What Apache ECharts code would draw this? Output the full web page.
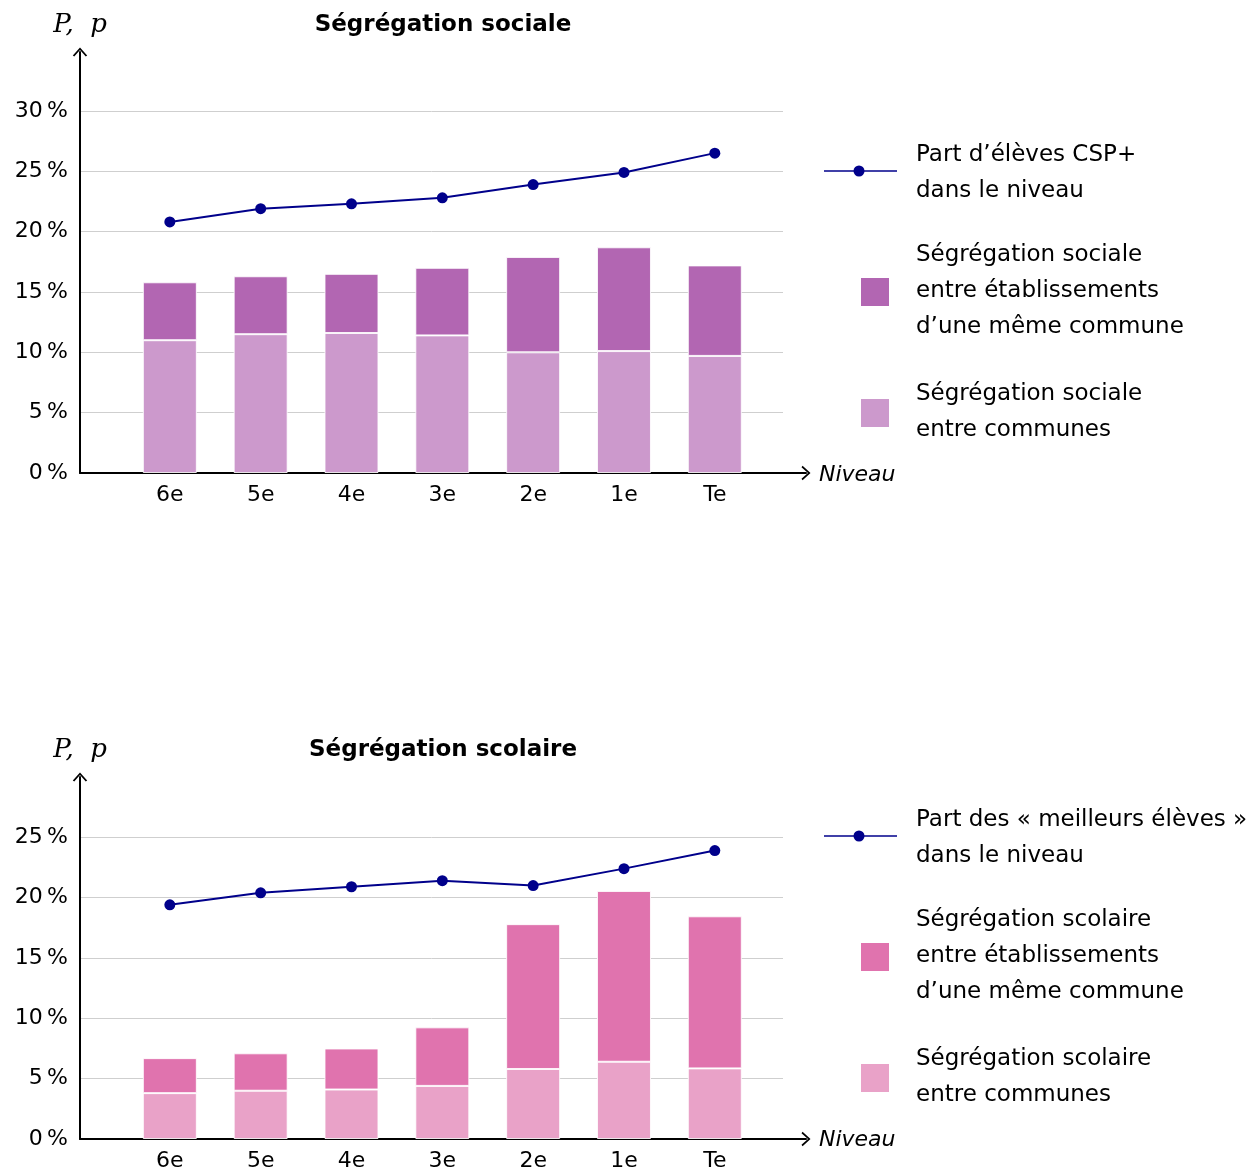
<!DOCTYPE html>
<html>
<head>
<meta charset="utf-8">
<script src="https://cdn.jsdelivr.net/npm/echarts@6/dist/echarts.min.js"></script>
<style>
html,body{margin:0;padding:0;background:#fff;}
#c{width:1253px;height:1172px;}
</style>
</head>
<body>
<div id="c"></div>
<script>
// ---- data ----
const categories = ['6e','5e','4e','3e','2e','1e','Te'];
const yTicksSociale = [0,5,10,15,20,25,30];
const yTicksScolaire = [0,5,10,15,20,25];

const socialeCommunes = [11.0, 11.5, 11.6, 11.4, 10.0, 10.1, 9.7];
const socialeEtab     = [4.8, 4.8, 4.9, 5.6, 7.9, 8.6, 7.5];
const partCSP         = [20.8, 21.9, 22.3, 22.8, 23.9, 24.9, 26.5];

const scolaireCommunes = [3.8, 4.0, 4.1, 4.4, 5.8, 6.4, 5.85];
const scolaireEtab     = [2.9, 3.1, 3.4, 4.85, 12.0, 14.15, 12.6];
const partMeilleurs    = [19.4, 20.4, 20.9, 21.4, 21.0, 22.4, 23.9];

const legendSociale = [
  ['Part d\u2019élèves CSP+', 'dans le niveau'],
  ['Ségrégation sociale', 'entre établissements', 'd\u2019une même commune'],
  ['Ségrégation sociale', 'entre communes']
];
const legendScolaire = [
  ['Part des « meilleurs élèves »', 'dans le niveau'],
  ['Ségrégation scolaire', 'entre établissements', 'd\u2019une même commune'],
  ['Ségrégation scolaire', 'entre communes']
];

// ---- styles ----
const C_LINE = '#00008b';
const C_SOC_TOP = '#b266b2', C_SOC_BOT = '#cc99cc';
const C_SCO_TOP = '#e073ae', C_SCO_BOT = '#e9a2c8';
const FONT = 'DejaVu Sans';
const LBL = 22;
const LEG = 23;

const chart = echarts.init(document.getElementById('c'), null, {renderer:'canvas'});

const PX = 12.07;          // px per percent
const STEP = 90.83;        // category spacing
const AX_LEFT = 80;
const arrowPath = 'path://M10,0 L20,11 L18,12.5 L10,3.5 L2,12.5 L0,11 Z';

function panelGrids(bottom, ymax, arrowTop){
  const top = bottom - ymax*PX;
  return [
    {left: AX_LEFT + STEP/2 - 1, top, width: STEP*categories.length, height: bottom-top},
    {left: AX_LEFT, top, width: 703, height: bottom-top},
    {left: AX_LEFT, top: arrowTop, width: 726, height: bottom-arrowTop}
  ];
}
const grids = [...panelGrids(473, 30, 52), ...panelGrids(1139, 25, 777)];

const xAxes = [], yAxes = [];
function addPanel(base, ymax){
  xAxes.push({type:'category', gridIndex:base, data:categories, boundaryGap:true,
    axisLine:{show:false}, axisTick:{show:false}, splitLine:{show:false},
    axisLabel:{margin:11, color:'#000', fontFamily:FONT, fontSize:LBL}});
  yAxes.push({type:'value', gridIndex:base, min:0, max:ymax, interval:5, show:false, splitLine:{show:false}});
  xAxes.push({type:'value', gridIndex:base+1, min:0, max:1, show:false});
  yAxes.push({type:'value', gridIndex:base+1, min:0, max:ymax, interval:5,
    axisLine:{show:false}, axisTick:{show:false},
    splitLine:{show:true, lineStyle:{color:'#cfcfcf', width:1}},
    axisLabel:{margin:12, color:'#000', fontFamily:FONT, fontSize:LBL, formatter: v => v + '\u202f%'}});
  const frame = {show:true, onZero:false, symbol:['none', arrowPath], symbolSize:[15,9], lineStyle:{color:'#000', width:2}};
  xAxes.push({type:'value', gridIndex:base+2, min:0, max:1, axisLine:frame,
    axisTick:{show:false}, axisLabel:{show:false}, splitLine:{show:false}});
  yAxes.push({type:'value', gridIndex:base+2, min:0, max:1, axisLine:frame,
    axisTick:{show:false}, axisLabel:{show:false}, splitLine:{show:false}});
}
addPanel(0, 30);
addPanel(3, 25);

function barSeries(axis, stack, data, color){
  return {type:'bar', xAxisIndex:axis, yAxisIndex:axis, stack, data, barWidth:54,
    itemStyle:{color, borderColor:'rgba(255,255,255,0.85)', borderWidth:1}, z:2, silent:true};
}
function lineSeries(axis, data){
  return {type:'line', xAxisIndex:axis, yAxisIndex:axis, data, symbol:'circle', symbolSize:11,
    lineStyle:{color:C_LINE, width:2}, itemStyle:{color:C_LINE}, z:5, silent:true};
}

const series = [
  barSeries(0,'s1', socialeCommunes, C_SOC_BOT),
  barSeries(0,'s1', socialeEtab, C_SOC_TOP),
  lineSeries(0, partCSP),
  barSeries(3,'s2', scolaireCommunes, C_SCO_BOT),
  barSeries(3,'s2', scolaireEtab, C_SCO_TOP),
  lineSeries(3, partMeilleurs)
];

// ---- texts & legend ----
const g = [];
function txt(x,y,text,opt){
  g.push({type:'text', x, y, style:Object.assign({text, fill:'#000', font:`${LEG}px "${FONT}"`, textAlign:'left', textVerticalAlign:'middle'}, opt||{})});
}
function legend(items, colors, ys){
  const [ly, y2, y3] = ys;
  g.push({type:'line', shape:{x1:824,y1:ly,x2:897,y2:ly}, style:{stroke:C_LINE, lineWidth:1.5}});
  g.push({type:'circle', shape:{cx:859,cy:ly,r:5.5}, style:{fill:C_LINE}});
  items[0].forEach((t,i)=>txt(916, ly-16+36*i, t));
  g.push({type:'rect', shape:{x:861,y:y2-14,width:28,height:28}, style:{fill:colors[0]}});
  items[1].forEach((t,i)=>txt(916, y2-37+36*i, t));
  g.push({type:'rect', shape:{x:861,y:y3-14,width:28,height:28}, style:{fill:colors[1]}});
  items[2].forEach((t,i)=>txt(916, y3-19+36*i, t));
}
legend(legendSociale, [C_SOC_TOP, C_SOC_BOT], [171, 292, 413]);
legend(legendScolaire, [C_SCO_TOP, C_SCO_BOT], [836, 957, 1078]);

txt(443, 25, 'Ségrégation sociale', {textAlign:'center', font:`bold 23px "${FONT}"`});
txt(443, 750, 'Ségrégation scolaire', {textAlign:'center', font:`bold 23px "${FONT}"`});
txt(80, 25, 'P,  p', {textAlign:'center', font:`italic 26px "DejaVu Serif"`});
txt(80, 750, 'P,  p', {textAlign:'center', font:`italic 26px "DejaVu Serif"`});
txt(819, 475, 'Niveau', {font:`italic ${LBL}px "${FONT}"`});
txt(819, 1140, 'Niveau', {font:`italic ${LBL}px "${FONT}"`});

chart.setOption({
  animation:false,
  grid: grids,
  xAxis: xAxes,
  yAxis: yAxes,
  series,
  graphic: g
});
</script>
</body>
</html>
